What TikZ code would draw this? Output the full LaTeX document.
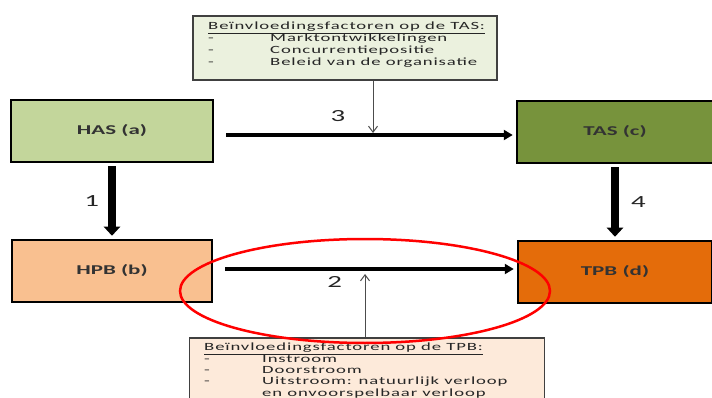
\documentclass[tikz,border=0pt]{standalone}
\usepackage{fontspec}
\setmainfont[FakeStretch=1.7]{Carlito}
\usetikzlibrary{arrows.meta,positioning}

\definecolor{hasgroen}{RGB}{195,214,155}
\definecolor{tasgroen}{RGB}{119,147,60}
\definecolor{hpboranje}{RGB}{249,192,144}
\definecolor{tpboranje}{RGB}{228,108,10}
\definecolor{tasfactvul}{RGB}{235,241,222}
\definecolor{tpbfactvul}{RGB}{253,234,218}

\begin{document}
\begin{tikzpicture}[x=1pt, y=-1pt,
    hoofdbox/.style={rectangle, draw=black, line width=2.5pt, minimum width=200pt, minimum height=62pt, font=\fontsize{13.5}{15}\selectfont\bfseries, text=black!80},
    factbox/.style={rectangle, draw=black!75, line width=1.3pt, inner sep=0pt},
    facttekst/.style={align=left, inner sep=0pt, anchor=north west, font=\fontsize{11}{11.8}\selectfont\addfontfeatures{LetterSpace=8}, text=black!85},
    dikpijl/.style={-{Triangle[width=16pt, length=9pt]}, line width=7.5pt},
    breedpijl/.style={-{Triangle[width=10pt, length=9pt]}, line width=3.5pt},
    dunpijl/.style={-{Straight Barb[width=9pt, length=6pt]}, line width=1pt, black!70},
    nummer/.style={font=\fontsize{17}{19}\selectfont, text=black!85}
]
\clip (0,0) rectangle (712,398);
\fill[white] (0,0) rectangle (712,398);

% HOOFDBLOKKEN
\node[hoofdbox, fill=hasgroen, minimum width=202pt] (has) at (112,131) {HAS (a)};
\node[hoofdbox, fill=tasgroen, minimum width=196pt] (tas) at (615,132) {TAS (c)};
\node[hoofdbox, fill=hpboranje] (hpb) at (112,271) {HPB (b)};
\node[hoofdbox, fill=tpboranje, minimum width=194pt] (tpb) at (615,272) {TPB (d)};

% BEINVLOEDINGSFACTOREN TAS
\node[factbox, fill=tasfactvul, minimum width=304pt, minimum height=64pt] (tasfact) at (345,48) {};
\node[facttekst] (tastekst) at (208,22) {\underline{Beïnvloedingsfactoren op de TAS:}\\
    \makebox[62pt][l]{-}Marktontwikkelingen\\
    \makebox[62pt][l]{-}Concurrentiepositie\\
    \makebox[62pt][l]{-}Beleid van de organisatie};

% BEINVLOEDINGSFACTOREN TPB
\node[factbox, fill=tpbfactvul, minimum width=355pt, minimum height=80pt] (tpbfact) at (367,378) {};
\node[facttekst, font=\fontsize{11}{11.3}\selectfont\addfontfeatures{LetterSpace=8}] (tpbtekst) at (204,343) {\underline{Beïnvloedingsfactoren op de TPB:}\\
    \makebox[58pt][l]{-}Instroom\\
    \makebox[58pt][l]{-}Doorstroom\\
    \makebox[58pt][l]{-}Uitstroom: natuurlijk verloop\\
    \makebox[58pt][l]{}en onvoorspelbaar verloop};

% PIJLEN
\draw[dikpijl, shorten <=3pt, shorten >=3pt] (has) -- node[nummer, left=6pt] (n1) {1} (hpb);
\draw[dikpijl, shorten <=3pt, shorten >=3pt] (tas) -- node[nummer, right=9pt] (n4) {4} (tpb);
\draw[breedpijl, shorten <=12pt, shorten >=3pt] (has.east |- 0,135) -- node[nummer, pos=0.41, above=8pt] (n3) {3} (tas.west |- 0,135);
\draw[breedpijl, shorten <=12pt, shorten >=3pt] (hpb.east |- 0,269) -- node[nummer, pos=0.40, below=2pt] (n2) {2} (tpb.west |- 0,269);

\coordinate (k3) at (373,133);
\coordinate (k2) at (365,274);
\draw[dunpijl] (k3 |- tasfact.south) -- (k3);
\draw[dunpijl] (k2 |- tpbfact.north) -- (k2);

% RODE ELLIPS
\draw[red, line width=2.5pt] (365,291) ellipse [x radius=185pt, y radius=52pt];
\end{tikzpicture}
\end{document}
